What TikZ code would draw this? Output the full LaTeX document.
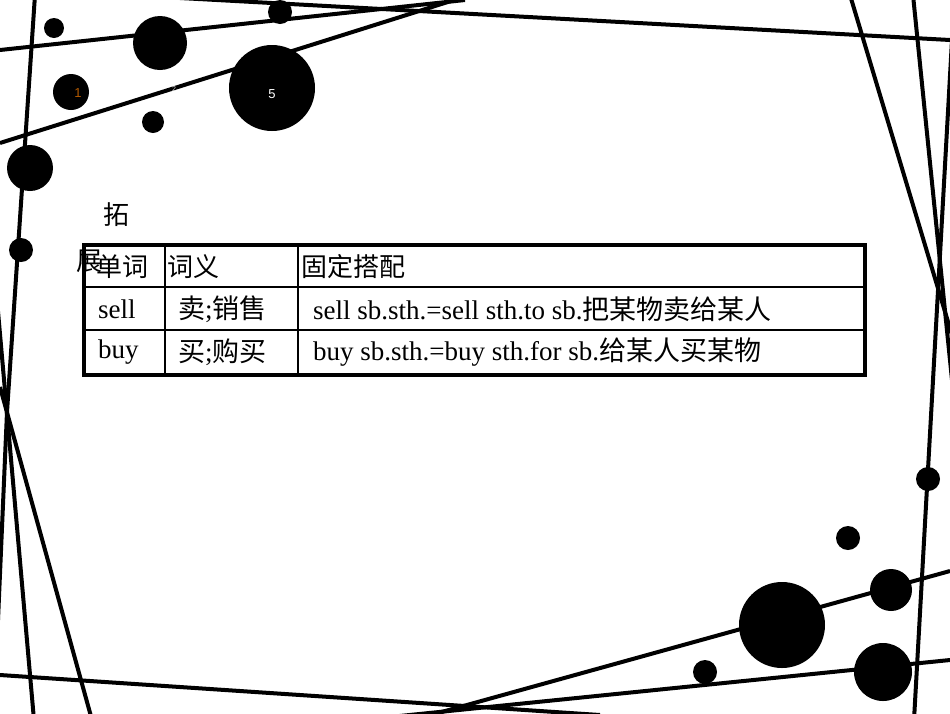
\documentclass[tikz,border=0pt]{standalone}
\usepackage{fontspec}
\setmainfont{Liberation Serif}
\newfontfamily\cjk{Noto Sans CJK SC}
\newfontfamily\sans{Liberation Sans}
\begin{document}
\begin{tikzpicture}[x=1pt,y=-1pt,
  ln/.style={line width=4pt,black},
  dot/.style={fill=black},
  hd/.style={anchor=west,font=\cjk\fontsize{26}{26}\selectfont,inner sep=0},
  bd/.style={anchor=west,font=\fontsize{27}{27}\selectfont,inner sep=0}]
\useasboundingbox (0,0) rectangle (950,713);
\begin{scope}
\clip (0,0) rectangle (950,713);
% lines
\draw[ln] (0,50) -- (465,0);
\draw[ln] (0,143) -- (470,-5);
\draw[ln] (180,-2) -- (950,40);
\draw[ln] (35,-5) -- (7,412) -- (-2,620);
\draw[ln] (-3,300) -- (34,720);
\draw[ln] (0,387) -- (92,720);
\draw[ln] (0,675) -- (600,715);
\draw[ln] (420,718) -- (950,571);
\draw[ln] (380,718) -- (950,660);
\draw[ln] (850,-5) -- (952,335);
\draw[ln] (913,-5) -- (952,380);
\draw[ln] (952,40) -- (914,720);
% circles
\fill[dot] (54,28) circle (10);
\fill[dot] (160,43) circle (27);
\fill[dot] (280,12) circle (12);
\fill[dot] (71,92) circle (18);
\fill[dot] (153,122) circle (11);
\fill[dot] (272,88) circle (43);
\fill[dot] (30,168) circle (23);
\fill[dot] (21,250) circle (12);
\fill[dot] (928,479) circle (12);
\fill[dot] (848,538) circle (12);
\fill[dot] (891,590) circle (21);
\fill[dot] (782,625) circle (43);
\fill[dot] (883,672) circle (29);
\fill[dot] (705,672) circle (12);
\end{scope}
\node[font=\sans\fontsize{13}{13}\selectfont,text=orange!70!black] (n1) at (78,93) {1};
\node[font=\sans\fontsize{7}{7}\selectfont,text=gray!40] (n2) at (174,89) {2};
\node[font=\sans\fontsize{13}{13}\selectfont,text=white] (n5) at (272,94) {5};
% table
\fill[white] (84,245) rectangle (865,375);
\draw[line width=1.5pt] (84,287) -- (865,287) (84,330) -- (865,330)
  (165,245) -- (165,375) (298,245) -- (298,375);
\draw[line width=4pt] (84,245) rectangle (865,375);
\node[font=\cjk\fontsize{26}{26}\selectfont,inner sep=0] (t1) at (116,215) {拓};
\node[font=\cjk\fontsize{26}{26}\selectfont,inner sep=0] (t2) at (89,261) {展};
\node[hd] (h1) at (96,267) {单词};
\node[hd] (h2) at (167,267) {词义};
\node[hd] (h3) at (301,267) {固定搭配};
\node[bd] (a1) at (98,309) {sell};
\node[bd] (a2) at (178,309) {{\cjk 卖};{\cjk 销售}};
\node[bd] (a3) at (313,309) {sell sb.sth.=sell sth.to sb.{\cjk 把某物卖给某人}};
\node[bd] (b1) at (98,352) {buy};
\node[bd] (b2) at (178,352) {{\cjk 买};{\cjk 购买}};
\node[bd] (b3) at (313,352) {buy sb.sth.=buy sth.for sb.{\cjk 给某人买某物}};
\end{tikzpicture}
\end{document}
